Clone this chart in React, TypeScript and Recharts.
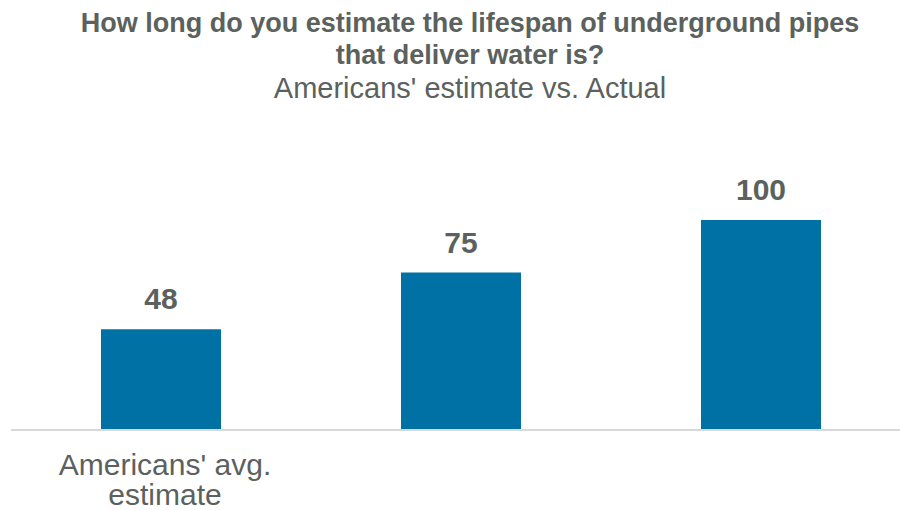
import React from "react";
import { BarChart, Bar, XAxis, YAxis, LabelList } from "recharts";

const categories = ["Americans' avg. estimate", "", ""];
const values = [48, 75, 100];
const tickLines: string[][] = [["Americans' avg.", "estimate"], [], []];

const data = categories.map((c, i) => ({ name: c, idx: i, value: values[i] }));

const TEXT = "#5B615D";
const BAR = "#0071A4";

const Tick = (props: any) => {
  const { x, y, payload } = props;
  const lines = tickLines[payload.value] || [];
  return (
    <g>
      {lines.map((l, i) => (
        <text
          key={i}
          x={x + 4}
          y={y + 37 + i * 30}
          textAnchor="middle"
          fill={TEXT}
          fontSize={30}
          fontFamily="Liberation Sans, Arial, sans-serif"
        >
          {l}
        </text>
      ))}
    </g>
  );
};

export default function App() {
  return (
    <div style={{ position: "absolute", left: 0, top: 0, width: 900, height: 510, overflow: "hidden", background: "#fff" }}>
      <div
        style={{
          position: "absolute",
          left: 0,
          top: 7,
          width: 940,
          textAlign: "center",
          color: TEXT,
          fontFamily: "Liberation Sans, Arial, sans-serif",
        }}
      >
        <div style={{ fontWeight: "bold", fontSize: 27, lineHeight: "32px" }}>
          How long do you estimate the lifespan of underground pipes
          <br />
          that deliver water is?
        </div>
        <div style={{ fontSize: 29, lineHeight: "34px", marginTop: 0 }}>Americans' estimate vs. Actual</div>
      </div>
      <div style={{ position: "absolute", left: 0, top: 0 }}>
        <BarChart
          width={915}
          height={510}
          data={data}
          margin={{ top: 220, right: 4, bottom: 0, left: 11 }}
        >
          <XAxis
            dataKey="idx"
            axisLine={{ stroke: "#D9D9D9", strokeWidth: 2 }}
            tickLine={false}
            tick={<Tick />}
            interval={0}
            height={80}
          />
          <YAxis hide domain={[0, 100]} />
          <Bar dataKey="value" fill={BAR} barSize={120} isAnimationActive={false}>
            <LabelList
              dataKey="value"
              position="top"
              offset={20}
              fill={TEXT}
              fontSize={30}
              fontWeight="bold"
              fontFamily="Liberation Sans, Arial, sans-serif"
            />
          </Bar>
        </BarChart>
      </div>
    </div>
  );
}
